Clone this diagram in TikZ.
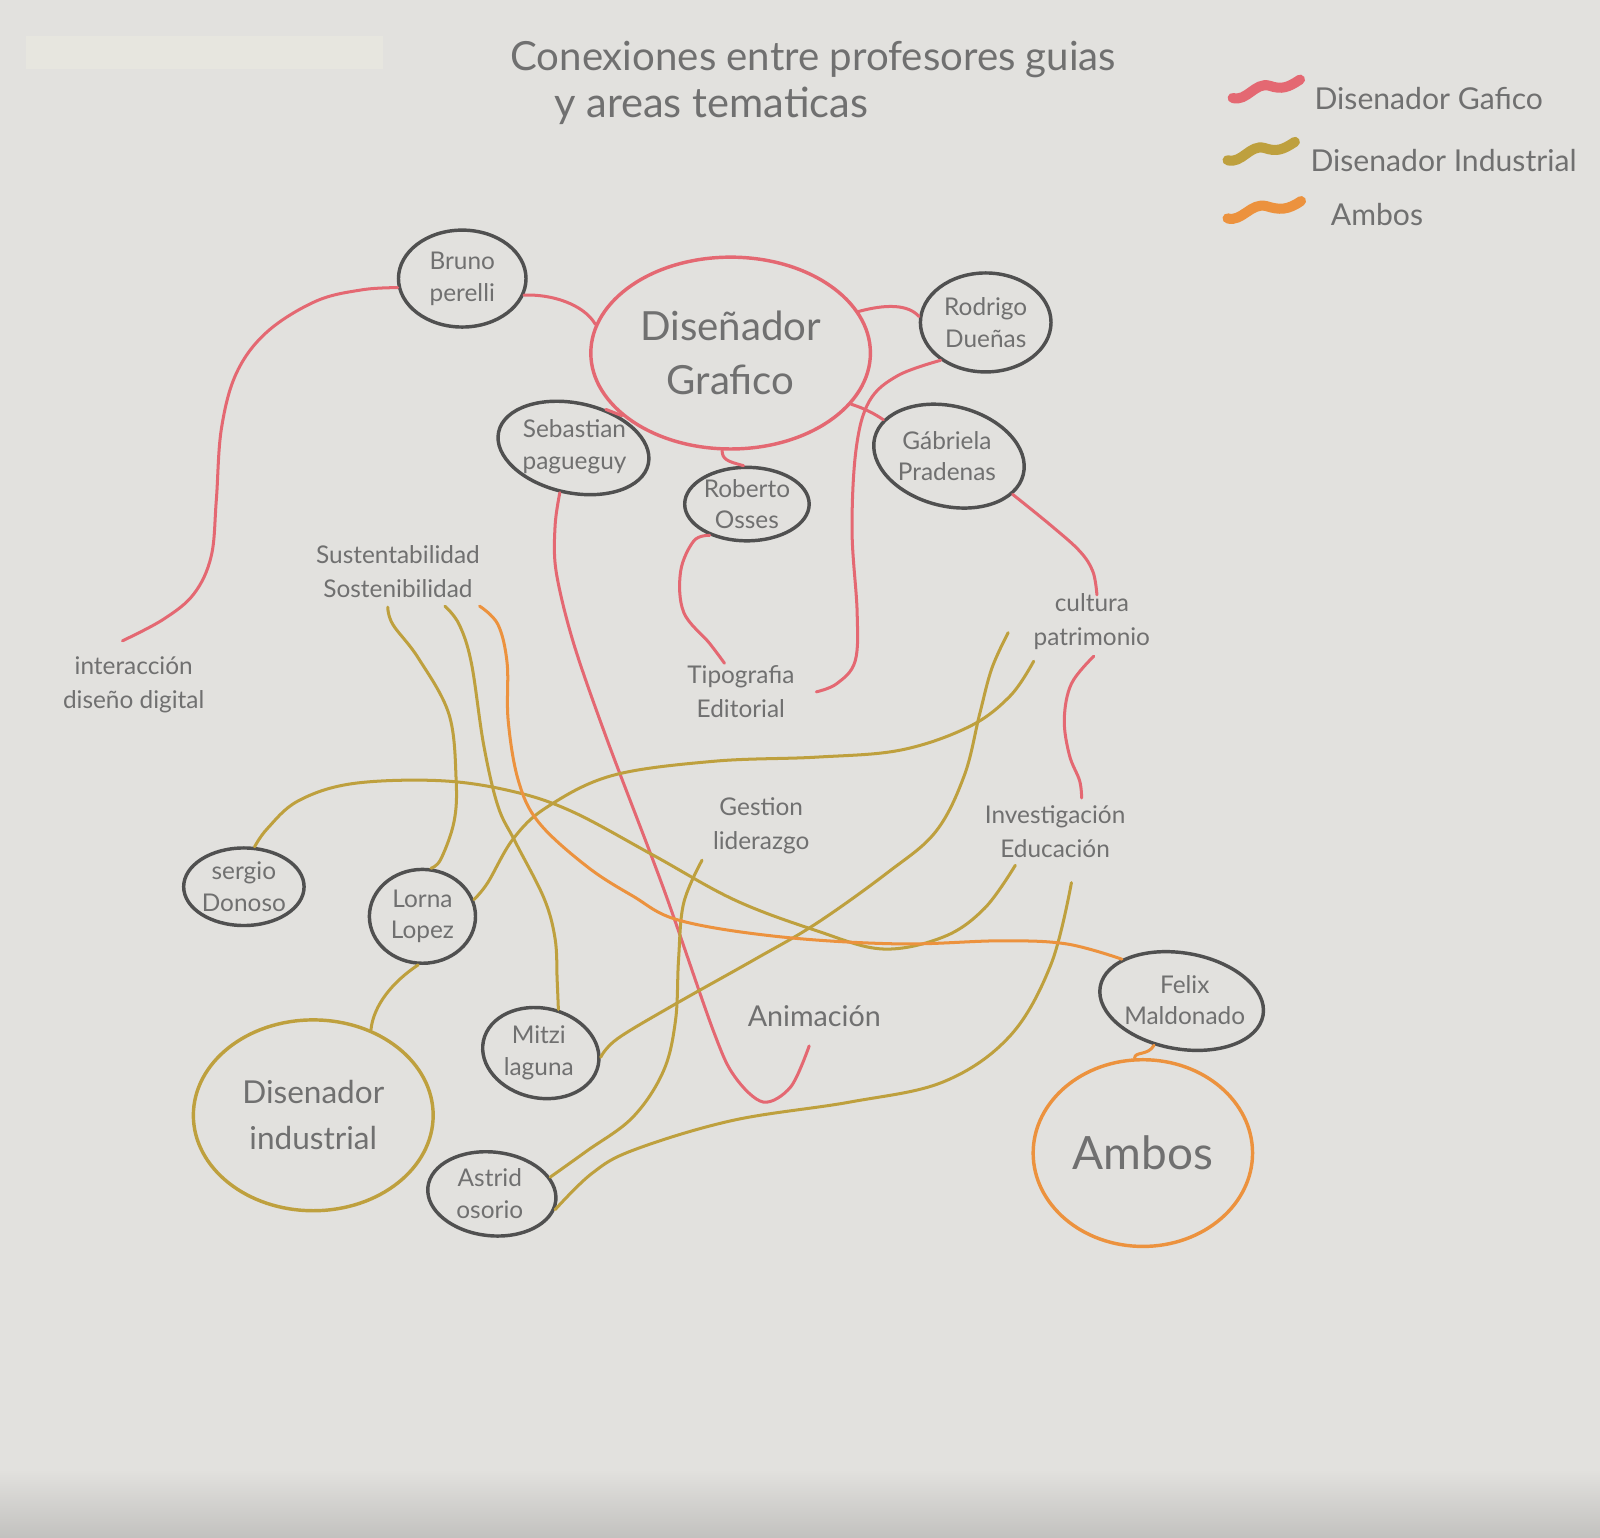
\documentclass[tikz,border=0pt]{standalone}
\usepackage{fontspec}
\setmainfont{Lato}
\usetikzlibrary{shapes.geometric}
\definecolor{paper}{RGB}{226,225,222}
\definecolor{tape}{RGB}{231,230,223}
\definecolor{gred}{RGB}{228,104,114}
\definecolor{olive}{RGB}{190,160,62}
\definecolor{amber}{RGB}{236,146,62}
\definecolor{ink}{RGB}{80,80,80}
\definecolor{pencil}{RGB}{112,112,112}
\begin{document}
\begin{tikzpicture}[x=0.025cm,y=-0.025cm,
  sz/.style 2 args={minimum width=#1*0.025cm, minimum height=#2*0.025cm},
  prof/.style={ellipse, draw=ink, line width=2.4pt, inner sep=0pt, align=center, text=pencil, font=\fontsize{17}{22}\selectfont},
  proftext/.style={align=center, text=pencil, font=\fontsize{17}{22}\selectfont, inner sep=0pt},
  bigcirc/.style={ellipse, line width=2.4pt, inner sep=0pt, align=center, text=pencil},
  topic/.style={align=center, text=pencil, font=\fontsize{17}{24}\selectfont, inner sep=0pt},
  conn/.style={line width=2.1pt, line cap=round, line join=round},
  rc/.style={conn, draw=gred}, oc/.style={conn, draw=olive}, ac/.style={conn, draw=amber},
  squig/.style={line width=7pt, line cap=round},
  legend/.style={anchor=west, text=pencil, font=\fontsize{21}{24}\selectfont, inner sep=0pt},
  titletxt/.style={text=pencil, inner sep=0pt}
]
\useasboundingbox (0,0) rectangle (1568,1507);
\fill[paper] (0,0) rectangle (1568,1507);
\shade[top color=paper, bottom color=paper!86!black] (0,1440) rectangle (1568,1507);
\fill[tape] (25,35) rectangle (375,68);

% title
\node[titletxt, font=\fontsize{28}{32}\selectfont] (t1) at (797,58) {Conexiones entre profesores guias};
\node[titletxt, font=\fontsize{29}{33}\selectfont] (t2) at (697,104) {y areas tematicas};

% legend
\draw[squig, gred] (1208,96) .. controls (1222,100) and (1230,80) .. (1244,84) .. controls (1256,88) and (1262,86) .. (1274,78);
\draw[squig, olive] (1203,157) .. controls (1217,161) and (1225,141) .. (1239,145) .. controls (1251,149) and (1257,147) .. (1269,139);
\draw[squig, amber] (1203,214) .. controls (1217,218) and (1226,198) .. (1241,202) .. controls (1254,206) and (1262,206) .. (1275,197);
\node[legend] (l1) at (1288,97) {Disenador Gafico};
\node[legend] (l2) at (1284,157) {Disenador Industrial};
\node[legend] (l3) at (1304,210) {Ambos};

% main circles
\node[bigcirc, draw=gred, sz={274}{188}, font=\fontsize{28}{38}\selectfont] (dg) at (716,346) {Diseñador\\Grafico};
\node[bigcirc, draw=olive, sz={235}{187}, font=\fontsize{22}{32}\selectfont] (di) at (307,1093) {Disenador\\industrial};
\node[bigcirc, draw=amber, sz={215}{183}, font=\fontsize{32}{36}\selectfont] (amb) at (1120,1130) {Ambos};

% professors
\node[prof, sz={125}{95}] (bru) at (453,273) {Bruno\\perelli};
\node[prof, sz={128}{97}] (rod) at (966,316) {Rodrigo\\Dueñas};
\node[prof, sz={150}{88}, rotate=-12] (seb) at (562,439) {};
\node[proftext] (sebt) at (563,438) {Sebastian\\pagueguy};
\node[prof, sz={122}{72}] (rob) at (732,494) {Roberto\\Osses};
\node[prof, sz={150}{98}, rotate=-14] (gab) at (930,447) {};
\node[proftext] (gabt) at (928,447) {Gábriela\\Pradenas};
\node[prof, sz={118}{76}] (ser) at (239,869) {sergio\\Donoso};
\node[prof, sz={104}{92}] (lor) at (414,898) {Lorna\\Lopez};
\node[prof, sz={115}{88}, rotate=-12] (mit) at (530,1032) {};
\node[proftext] (mitt) at (528,1032) {Mitzi\\laguna};
\node[prof, sz={126}{82}, rotate=-6] (ast) at (482,1170) {};
\node[proftext] (astt) at (480,1170) {Astrid\\osorio};
\node[prof, sz={162}{94}, rotate=-10] (fel) at (1158,981) {};
\node[proftext] (felt) at (1161,980) {Felix\\Maldonado};

% topics
\node[topic] (sust) at (390,560) {Sustentabilidad\\Sostenibilidad};
\node[topic] (inter) at (131,671) {interacción\\diseño digital};
\node[topic] (tipo) at (726,678) {Tipografia\\Editorial};
\node[topic] (cult) at (1070,609) {cultura\\patrimonio};
\node[topic] (gest) at (746,809) {Gestion\\liderazgo};
\node[topic] (inv) at (1034,815) {Investigación\\Educación};
\node[topic, font=\fontsize{20}{24}\selectfont] (anim) at (798,996) {Animación};

% free ends near the topic labels
\coordinate (cInter) at (120,628);
\coordinate (cTipoA) at (710,650);
\coordinate (cTipoB) at (800,678);
\coordinate (cCultA) at (1075,583);
\coordinate (cCultB) at (1072,643);
\coordinate (cInvA) at (1060,782);
\coordinate (cAnim) at (793,1025);
\coordinate (cSust1) at (380,595);
\coordinate (cSust2) at (436,594);
\coordinate (cSust3) at (470,594);
\coordinate (cCult1) at (988,620);
\coordinate (cCult2) at (1013,648);
\coordinate (cGest) at (688,843);
\coordinate (cEduc1) at (995,848);
\coordinate (cEduc2) at (1050,865);

% red connectors (Diseñador Gráfico)
\draw[rc] (bru.-15) .. controls (540,288) and (572,298) .. (dg.168);
\draw[rc] plot[smooth, tension=0.6] coordinates {(bru.188) (355,284) (310,295) (262,325) (232,365) (217,420) (212,490) (207,545) (190,582) (160,607) (cInter)};
\draw[rc] (dg.18) .. controls (868,298) and (890,298) .. (rod.175);
\draw[rc] plot[smooth, tension=0.6] coordinates {(rod.220) (880,368) (852,393) (839,440) (835,520) (840,600) (838,648) (820,670) (cTipoB)};
\draw[rc] (dg.-23) .. controls (840,398) and (852,402) .. (gab.165);
\draw[rc] (dg.-150) -- (seb.62);
\draw[rc] (dg.-95) .. controls (708,450) and (712,452) .. (rob.95);
\draw[rc] plot[smooth, tension=0.6] coordinates {(rob.-140) (680,530) (667,560) (670,600) (695,630) (cTipoA)};
\draw[rc] plot[smooth, tension=0.6] coordinates {(gab.-17) (1030,515) (1058,540) (1071,560) (cCultA)};
\draw[rc] plot[smooth, tension=0.6] coordinates {(cCultB) (1050,670) (1043,705) (1048,740) (1058,765) (cInvA)};
\draw[rc] plot[smooth, tension=0.55] coordinates {(seb.-95) (544,515) (545,560) (562,630) (595,725) (650,870) (699,1010) (720,1055) (748,1080) (775,1065) (cAnim)};

% olive connectors (Diseñador Industrial)
\draw[oc] plot[smooth, tension=0.6] coordinates {(ser.75) (262,812) (292,785) (345,768) (430,765) (500,775) (560,795) (640,838) (720,882) (800,912) (865,930) (925,918) (965,890) (cEduc1)};
\draw[oc] plot[smooth, tension=0.6] coordinates {(lor.80) (432,842) (445,805) (447,764) (440,700) (410,645) (385,612) (cSust1)};
\draw[oc] plot[smooth, tension=0.6] coordinates {(lor.18) (478,865) (503,822) (536,791) (600,760) (700,746) (800,742) (883,735) (950,712) (990,682) (cCult2)};
\draw[oc] plot[smooth, tension=0.6] coordinates {(mit.80) (546,960) (544,920) (533,880) (505,825) (488,790) (474,730) (462,650) (450,612) (cSust2)};
\draw[oc] plot[smooth, tension=0.6] coordinates {(mit.8) (605,1018) (660,985) (740,940) (800,905) (870,855) (917,815) (945,760) (960,700) (972,655) (cCult1)};
\draw[oc] plot[smooth, tension=0.6] coordinates {(ast.22) (575,1128) (620,1095) (650,1050) (662,1000) (665,940) (670,885) (cGest)};
\draw[oc] plot[smooth, tension=0.6] coordinates {(ast.-8) (580,1150) (621,1127) (718,1098) (833,1080) (925,1060) (990,1015) (1030,945) (cEduc2)};
\draw[oc] (di.56) .. controls (366,985) and (385,962) .. (lor.-95);

% orange connectors (Ambos)
\draw[ac] plot[smooth, tension=0.6] coordinates {(cSust3) (488,612) (497,650) (498,706) (508,765) (528,806) (575,849) (620,878) (666,902) (764,918) (880,925) (980,922) (1045,925) (fel.155)};
\draw[ac] (fel.-112) .. controls (1125,1035) and (1112,1030) .. (amb.95);
\end{tikzpicture}
\end{document}
